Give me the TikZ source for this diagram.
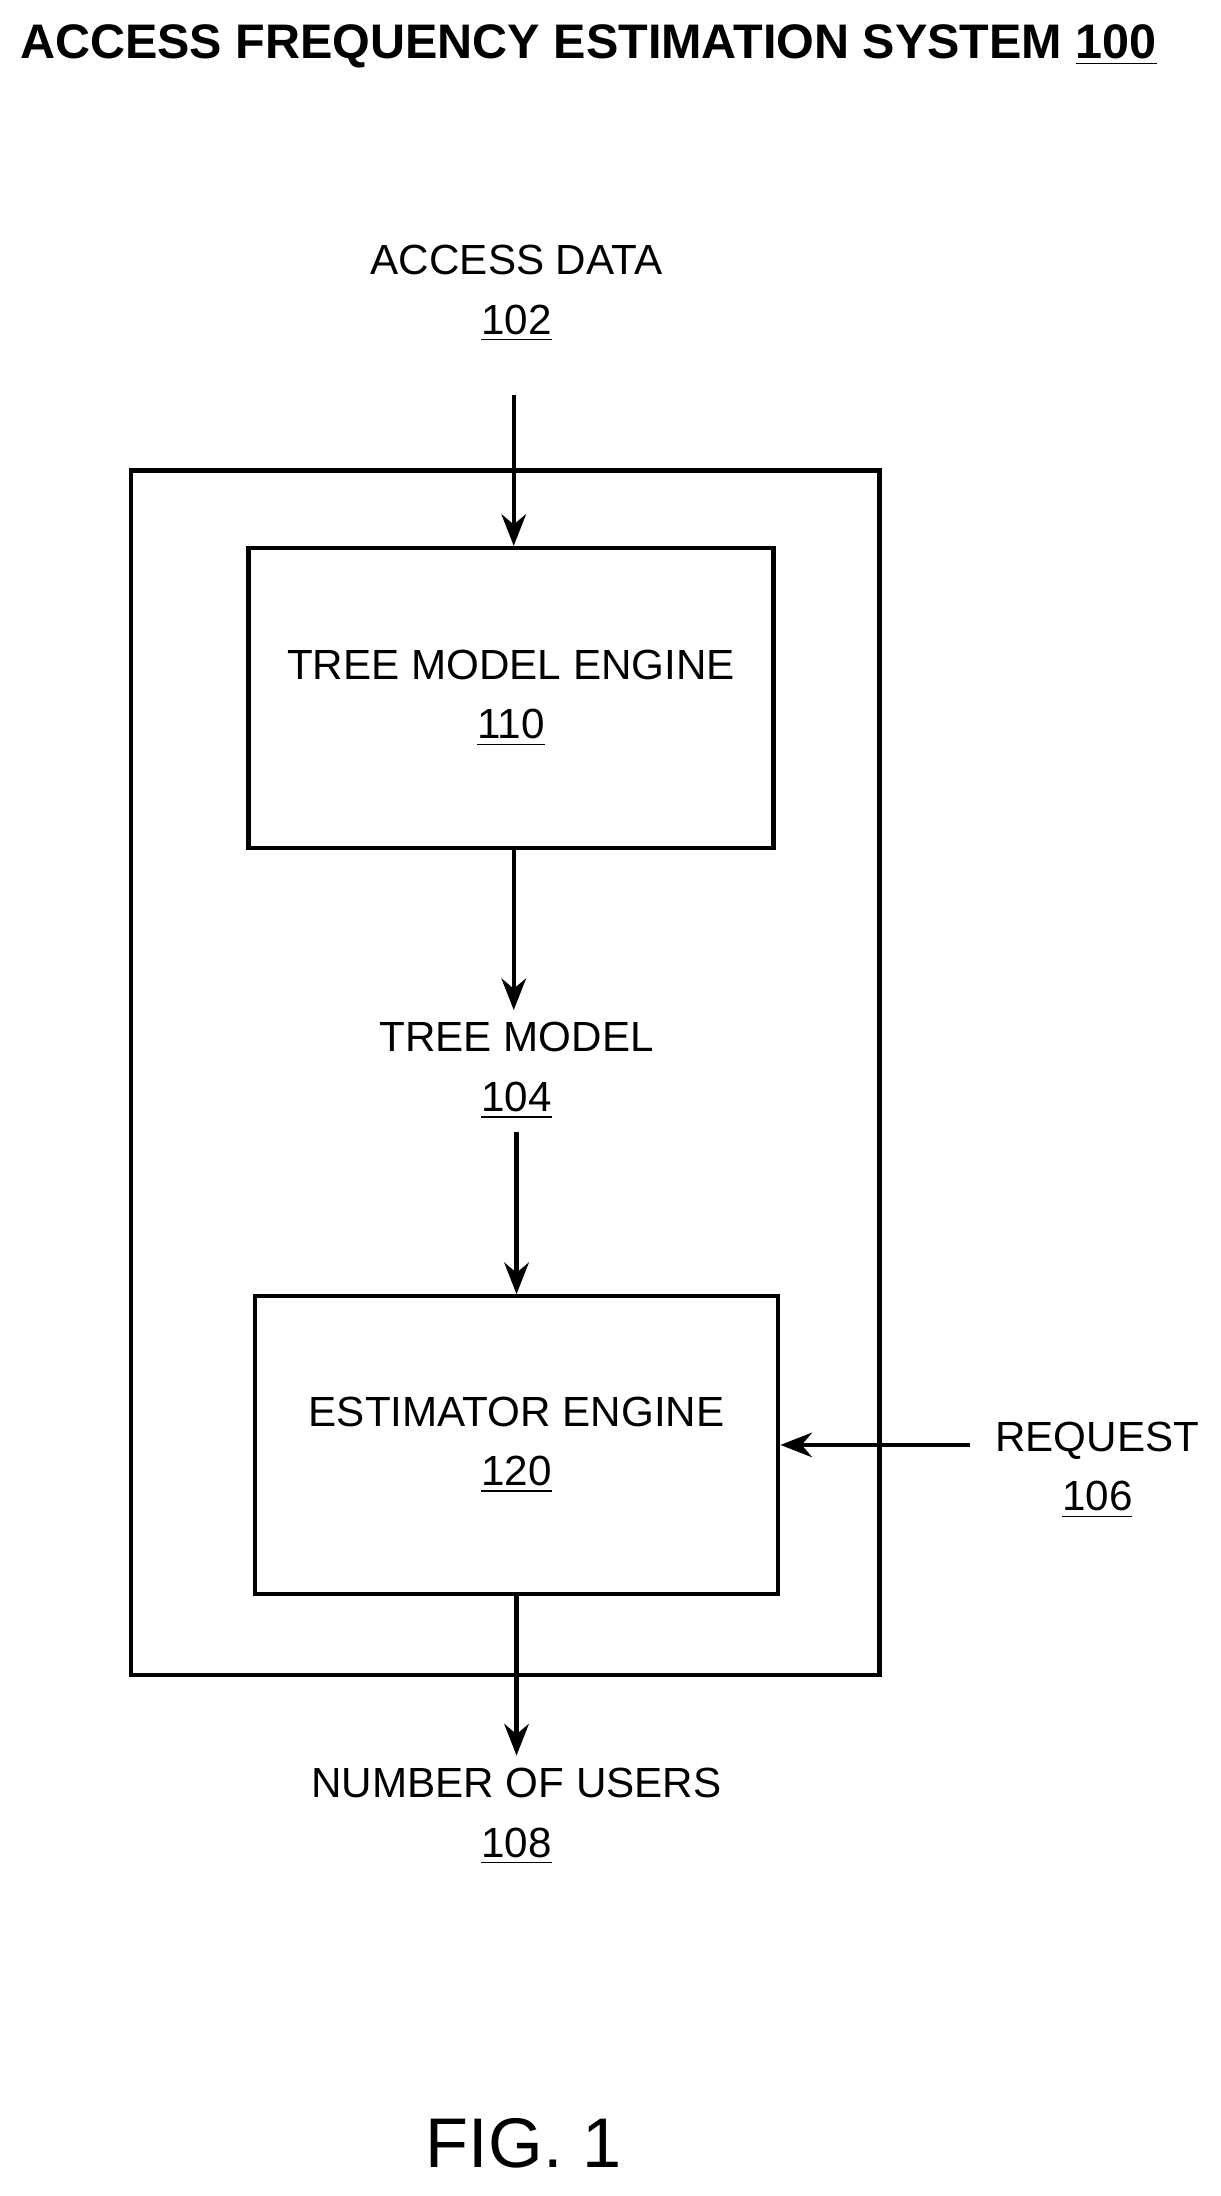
\documentclass[tikz,border=0pt]{standalone}
\usepackage{fontspec}
\setmainfont{Liberation Sans}
\usetikzlibrary{arrows.meta, positioning}
\tikzset{
  arrow/.style = {line width=1.2pt, -{Stealth[length=9pt,width=7pt]}},
  block/.style = {rectangle, draw, line width=1.2pt, align=center, font=\fontsize{12}{17}\selectfont},
  label/.style = {align=center, font=\fontsize{12}{17}\selectfont}
}
\begin{document}
\begin{tikzpicture}[x=0.01396cm, y=-0.01396cm]
    \useasboundingbox (0,0) rectangle (874,1573);
    % title
    \node (title) [anchor=west, inner xsep=0pt, font=\bfseries\fontsize{13.8}{16}\selectfont] at (14,33) {ACCESS FREQUENCY ESTIMATION SYSTEM \underline{100}};
    % outer frame
    \draw[line width=1.2pt] (94,337) rectangle (630,1200);
    % blocks
    \node (tme) [block, minimum width=376*0.01396cm, minimum height=215*0.01396cm] at (366,500) {TREE MODEL ENGINE\\\underline{110}};
    \node (est) [block, minimum width=375*0.01396cm, minimum height=213*0.01396cm] at (370,1035) {ESTIMATOR ENGINE\\\underline{120}};
    % labels
    \node (access)  [label] at (370,210)  {ACCESS DATA\\\underline{102}};
    \node (model)   [label] at (370,767)  {TREE MODEL\\\underline{104}};
    \node (request) [label] at (786,1053) {REQUEST\\\underline{106}};
    \node (users)   [label] at (370,1301) {NUMBER OF USERS\\\underline{108}};
    \node (fig) [font=\fontsize{20}{24}\selectfont] at (375,1535) {FIG. 1};
    % connectors
    \coordinate (cin)  at (368,283);
    \coordinate (creq) at (695,1035);
    \draw [arrow] (cin) -- (tme.north -| cin);
    \draw [arrow] (tme.south -| cin) -- (model.north -| cin);
    \draw [arrow] (model.south) -- (est.north);
    \draw [arrow] (creq) -- (est.east |- creq);
    \draw [arrow] (est.south) -- (users.north);
\end{tikzpicture}
\end{document}
